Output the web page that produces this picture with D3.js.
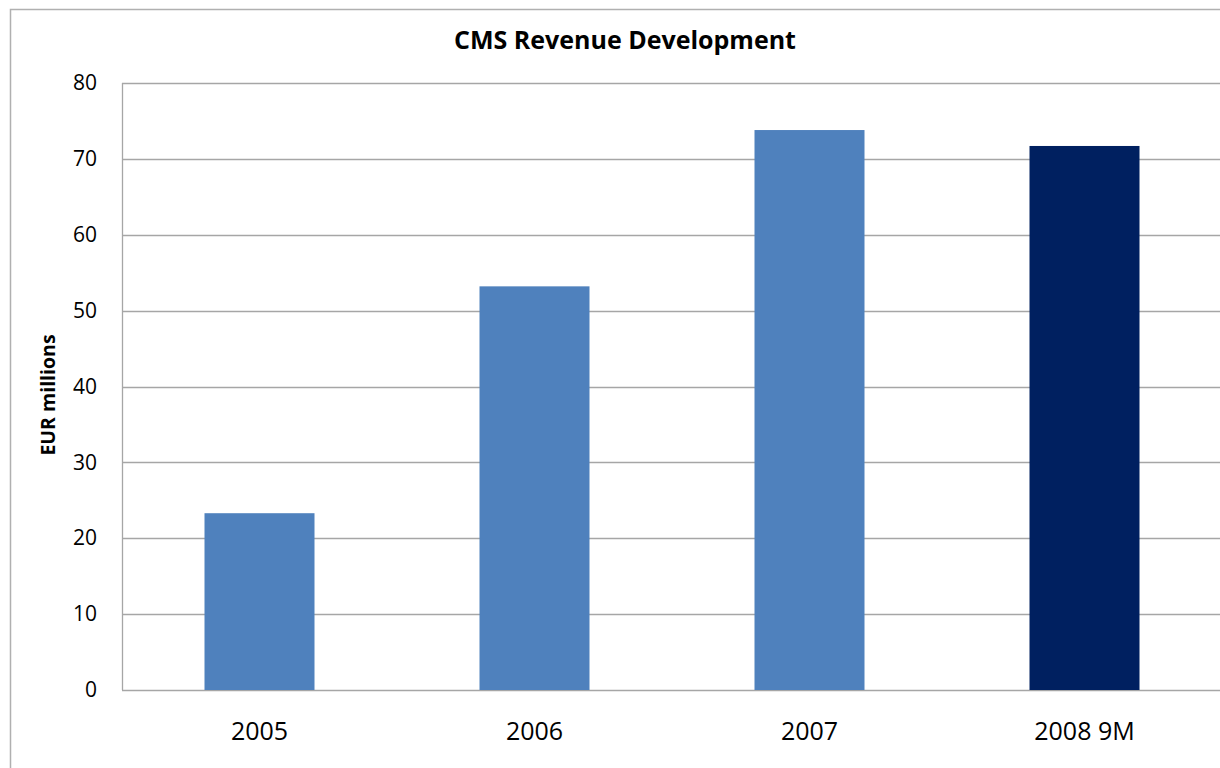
<!DOCTYPE html>
<html>
<head>
<meta charset="utf-8">
<script src="https://cdn.jsdelivr.net/npm/d3@7"></script>
<style>
  html, body { margin: 0; padding: 0; background: #fff; }
  svg { display: block; }
  text { font-family: "Open Sans", "Liberation Sans", sans-serif; fill: #000; }
</style>
</head>
<body>
<svg id="chart" width="1220" height="768"></svg>
<script>
// Revenue per period (EUR millions)
const categories = ["2005", "2006", "2007", "2008 9M"];
const revenue = [23.3, 53.2, 73.8, 71.7];
const barColors = ["#4F81BD", "#4F81BD", "#4F81BD", "#002060"];
const yTicks = [0, 10, 20, 30, 40, 50, 60, 70, 80];

const svg = d3.select("#chart");
const margin = { left: 122, top: 83, right: -2, bottom: 78 };
const W = 1220, H = 768;

// Outer chart frame
svg.append("rect")
  .attr("x", 10.5).attr("y", 9.5)
  .attr("width", 1300).attr("height", 900)
  .attr("fill", "none").attr("stroke", "#b0b0b0").attr("stroke-width", 1.5);

const x = d3.scaleBand()
  .domain(categories)
  .range([margin.left, W - margin.right])
  .paddingInner(0.6)
  .paddingOuter(0.3);

const y = d3.scaleLinear()
  .domain([0, 80])
  .range([H - margin.bottom, margin.top]);

// Horizontal gridlines
svg.append("g")
  .selectAll("line")
  .data(yTicks)
  .join("line")
  .attr("x1", margin.left).attr("x2", W)
  .attr("y1", d => Math.round(y(d)) + 0.5)
  .attr("y2", d => Math.round(y(d)) + 0.5)
  .attr("stroke", "#a6a6a6").attr("stroke-width", 1.3);

// Y axis line
svg.append("line")
  .attr("x1", margin.left + 0.5).attr("x2", margin.left + 0.5)
  .attr("y1", y(80)).attr("y2", y(0))
  .attr("stroke", "#a6a6a6").attr("stroke-width", 1.3);

// Bars
svg.append("g")
  .selectAll("rect")
  .data(revenue)
  .join("rect")
  .attr("x", (d, i) => x(categories[i]))
  .attr("width", x.bandwidth())
  .attr("y", d => y(d))
  .attr("height", d => y(0) - y(d))
  .attr("fill", (d, i) => barColors[i]);

// Y tick labels
const yAxis = d3.axisLeft(y).tickValues(yTicks).tickSize(0).tickPadding(25);
const gy = svg.append("g")
  .attr("transform", `translate(${margin.left},0)`)
  .call(yAxis);
gy.select(".domain").remove();
gy.selectAll("text")
  .style("font-family", "'Open Sans', sans-serif")
  .style("font-size", "21px")
  .attr("fill", "#000");

// X category labels
const xAxis = d3.axisBottom(x).tickSize(0).tickPadding(32);
const gx = svg.append("g")
  .attr("transform", `translate(0,${y(0)})`)
  .call(xAxis);
gx.select(".domain").remove();
gx.selectAll("text")
  .style("font-family", "'Open Sans', sans-serif")
  .style("font-size", "25px")
  .attr("fill", "#000");

// Title
svg.append("text")
  .attr("x", 625).attr("y", 49)
  .attr("text-anchor", "middle")
  .style("font-size", "25px")
  .style("font-weight", "bold")
  .text("CMS Revenue Development");

// Y axis title
svg.append("text")
  .attr("transform", `translate(55,395) rotate(-90)`)
  .attr("text-anchor", "middle")
  .style("font-size", "19.5px")
  .style("font-weight", "bold")
  .text("EUR millions");
</script>
</body>
</html>
